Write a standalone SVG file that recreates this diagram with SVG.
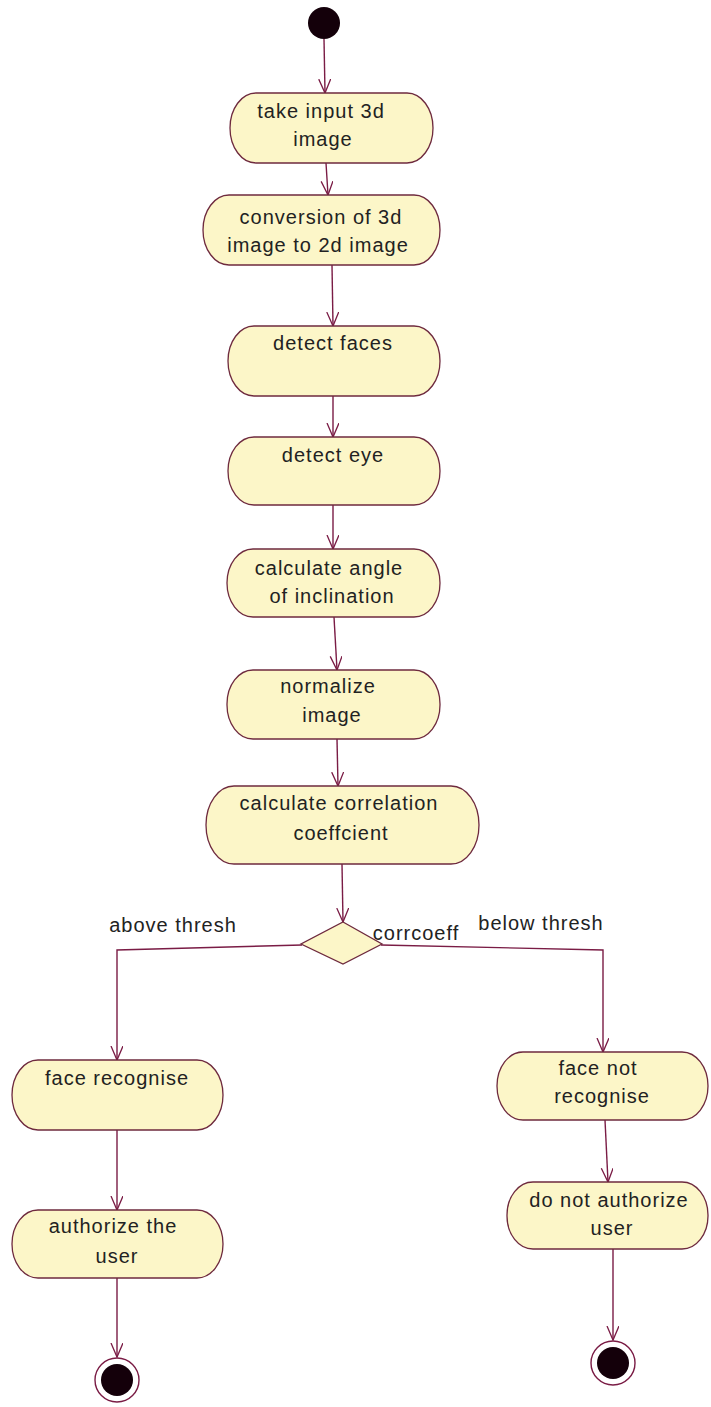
<svg xmlns="http://www.w3.org/2000/svg" width="711" height="1407" viewBox="0 0 711 1407">
<style>
.act{fill:#fcf6c8;stroke:#6e2a3e;stroke-width:1.3}
.t{font-family:"Liberation Sans",Arial,sans-serif;font-size:20px;fill:#222;text-anchor:middle;letter-spacing:1px}
.c{fill:none;stroke:#7a1c45;stroke-width:1.4}
.dot{fill:#14000a}
</style>
<defs>
<marker id="v" markerWidth="16" markerHeight="14" refX="14" refY="6" orient="auto" markerUnits="userSpaceOnUse">
<path d="M0,0 L14,6 L0,12" fill="none" stroke="#7a1c45" stroke-width="1.3"/>
</marker>
</defs>
<rect width="711" height="1407" fill="#fff"/>
<g id="connectors">
<line class="c" x1="324" y1="39" x2="325" y2="93" marker-end="url(#v)"/>
<line class="c" x1="326" y1="163" x2="328" y2="195" marker-end="url(#v)"/>
<line class="c" x1="332" y1="265" x2="333" y2="326" marker-end="url(#v)"/>
<line class="c" x1="333" y1="396" x2="333" y2="437" marker-end="url(#v)"/>
<line class="c" x1="333" y1="505" x2="333" y2="549" marker-end="url(#v)"/>
<line class="c" x1="334" y1="617" x2="337" y2="670" marker-end="url(#v)"/>
<line class="c" x1="337" y1="739" x2="338" y2="786" marker-end="url(#v)"/>
<line class="c" x1="342" y1="864" x2="343" y2="922" marker-end="url(#v)"/>
<polyline class="c" points="302,945 117,950 117,1060" marker-end="url(#v)"/>
<polyline class="c" points="381,945 603,950 603,1052" marker-end="url(#v)"/>
<line class="c" x1="117" y1="1130" x2="117" y2="1210" marker-end="url(#v)"/>
<line class="c" x1="605" y1="1120" x2="608" y2="1182" marker-end="url(#v)"/>
<line class="c" x1="117" y1="1278" x2="117" y2="1357" marker-end="url(#v)"/>
<line class="c" x1="613" y1="1249" x2="613" y2="1340" marker-end="url(#v)"/>
<text class="t" x="173" y="932">above thresh</text>
<text class="t" x="416" y="940">corrcoeff</text>
<text class="t" x="541" y="930">below thresh</text>
</g>
<g id="start"><circle class="dot" cx="324" cy="23" r="16"/></g>
<g id="n1"><rect class="act" x="230" y="93" width="203" height="70" rx="26" ry="35"/>
<text class="t" x="321" y="118">take input 3d</text><text class="t" x="323" y="146">image</text></g>
<g id="n2"><rect class="act" x="203" y="195" width="237" height="70" rx="26" ry="35"/>
<text class="t" x="321" y="224">conversion of 3d</text><text class="t" x="318" y="252">image to 2d image</text></g>
<g id="n3"><rect class="act" x="228" y="326" width="212" height="70" rx="26" ry="35"/>
<text class="t" x="333" y="350">detect faces</text></g>
<g id="n4"><rect class="act" x="228" y="437" width="212" height="68" rx="26" ry="34"/>
<text class="t" x="333" y="462">detect eye</text></g>
<g id="n5"><rect class="act" x="227" y="549" width="213" height="68" rx="26" ry="34"/>
<text class="t" x="329" y="575">calculate angle</text><text class="t" x="332" y="603">of inclination</text></g>
<g id="n6"><rect class="act" x="227" y="670" width="213" height="69" rx="26" ry="34"/>
<text class="t" x="328" y="693">normalize</text><text class="t" x="332" y="722">image</text></g>
<g id="n7"><rect class="act" x="206" y="786" width="273" height="78" rx="28" ry="39"/>
<text class="t" x="339" y="810">calculate correlation</text><text class="t" x="341" y="840">coeffcient</text></g>
<g id="decision"><polygon class="act" points="343,922 382,944 343,964 301,944"/></g>
<g id="n8"><rect class="act" x="12" y="1060" width="211" height="70" rx="26" ry="35"/>
<text class="t" x="117" y="1085">face recognise</text></g>
<g id="n9"><rect class="act" x="12" y="1210" width="211" height="68" rx="26" ry="34"/>
<text class="t" x="113" y="1233">authorize the</text><text class="t" x="117" y="1263">user</text></g>
<g id="n10"><rect class="act" x="497" y="1052" width="211" height="68" rx="26" ry="34"/>
<text class="t" x="598" y="1075">face not</text><text class="t" x="602" y="1103">recognise</text></g>
<g id="n11"><rect class="act" x="507" y="1182" width="201" height="67" rx="26" ry="33"/>
<text class="t" x="609" y="1207">do not authorize</text><text class="t" x="612" y="1235">user</text></g>
<g id="end1"><circle cx="117" cy="1380" r="22" fill="#fff" stroke="#7a1c45" stroke-width="1.4"/><circle class="dot" cx="117" cy="1380" r="16"/></g>
<g id="end2"><circle cx="613" cy="1363" r="22" fill="#fff" stroke="#7a1c45" stroke-width="1.4"/><circle class="dot" cx="613" cy="1363" r="16"/></g>
</svg>
